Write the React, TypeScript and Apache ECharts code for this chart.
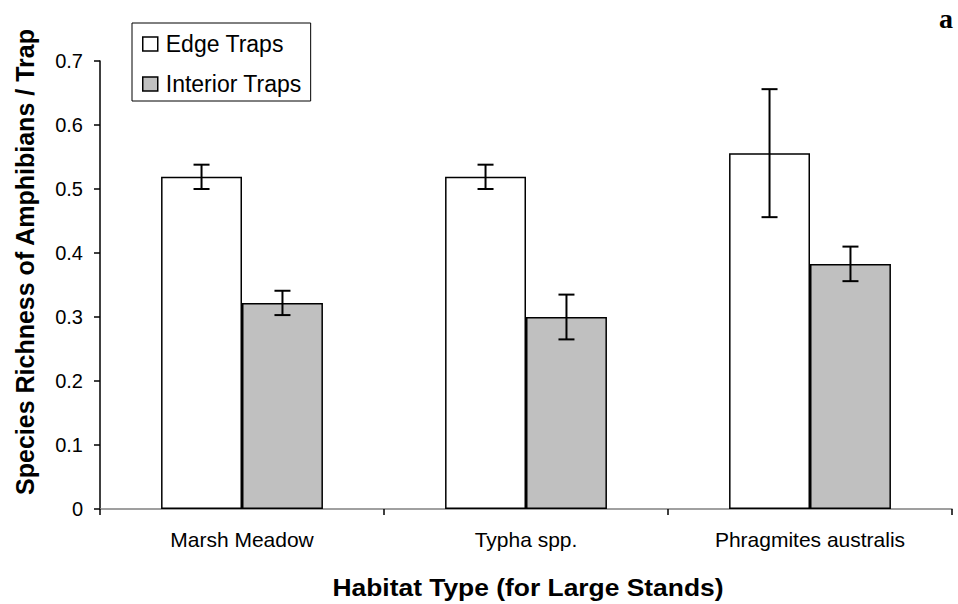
import React, { useEffect, useRef } from "react";
import * as echarts from "echarts";

const categories = ["Marsh Meadow", "Typha spp.", "Phragmites australis"];
const edgeValues = [0.519, 0.519, 0.556];
const edgeErrors = [0.019, 0.019, 0.1];
const interiorValues = [0.322, 0.3, 0.383];
const interiorErrors = [0.019, 0.035, 0.027];
const yTicks = [0, 0.1, 0.2, 0.3, 0.4, 0.5, 0.6, 0.7];

const BAR_GAP_FRAC = 0.43;

function errorSeries(name: string, values: number[], errs: number[], side: number) {
  return {
    type: "custom",
    name: name + " err",
    z: 10,
    silent: true,
    data: values.map((v, i) => [i, v - errs[i], v + errs[i]]),
    renderItem: (params: any, api: any) => {
      const idx = api.value(0);
      const lo = api.coord([idx, api.value(1)]);
      const hi = api.coord([idx, api.value(2)]);
      const band = api.size([1, 0])[0];
      const barW = (band * (1 - BAR_GAP_FRAC)) / 2;
      const x = lo[0] + (side * barW) / 2;
      const cap = 8;
      const style = { stroke: "#000", lineWidth: 2, fill: "none" };
      return {
        type: "group",
        children: [
          { type: "line", shape: { x1: x, y1: lo[1], x2: x, y2: hi[1] }, style },
          { type: "line", shape: { x1: x - cap, y1: lo[1], x2: x + cap, y2: lo[1] }, style },
          { type: "line", shape: { x1: x - cap, y1: hi[1], x2: x + cap, y2: hi[1] }, style },
        ],
      };
    },
  };
}

export default function App() {
  const ref = useRef<HTMLDivElement>(null);
  useEffect(() => {
    if (!ref.current) return;
    const chart = echarts.init(ref.current, null, { renderer: "svg" });
    const font = "'Liberation Sans', Arial, sans-serif";
    chart.setOption({
      animation: false,
      backgroundColor: "#fff",
      textStyle: { fontFamily: font },
      grid: { left: 100, right: 6, top: 61, bottom: 95, containLabel: false },
      legend: {
        orient: "vertical",
        left: 132,
        top: 23,
        padding: [8, 9, 4, 10],
        itemGap: 14,
        itemWidth: 15,
        itemHeight: 14,
        borderColor: "#000",
        borderWidth: 1,
        icon: "rect",
        textStyle: { fontSize: 23, lineHeight: 26, color: "#000", fontFamily: font, padding: [0, 0, 0, 3] },
        data: [
          { name: "Edge Traps", itemStyle: { color: "#fff", borderColor: "#000", borderWidth: 1.5 } },
          { name: "Interior Traps", itemStyle: { color: "#c0c0c0", borderColor: "#000", borderWidth: 1.5 } },
        ],
      },
      xAxis: {
        type: "category",
        data: categories,
        boundaryGap: true,
        axisLine: { lineStyle: { color: "#808080", width: 1.5 } },
        axisTick: { show: true, inside: false, length: 6, alignWithLabel: false, lineStyle: { color: "#000", width: 1.5 } },
        axisLabel: { fontSize: 21, color: "#000", margin: 20, fontFamily: font },
      },
      yAxis: {
        type: "value",
        min: 0,
        max: 0.7,
        interval: 0.1,
        splitLine: { show: false },
        axisLine: { show: true, lineStyle: { color: "#000", width: 1.5 } },
        axisTick: { show: true, length: 6, lineStyle: { color: "#000", width: 1.5 } },
        axisLabel: {
          fontSize: 20,
          color: "#000",
          margin: 17,
          fontFamily: font,
          formatter: (v: number) => {
            const t = yTicks.find((y) => Math.abs(y - v) < 1e-9);
            return t === 0 ? "0" : String(Math.round(v * 10) / 10);
          },
        },
      },
      graphic: [
        {
          type: "text",
          x: 946,
          y: 18,
          style: {
            text: "a",
            fontSize: 28,
            fontWeight: "bold",
            fontFamily: "'Liberation Serif', 'Times New Roman', serif",
            fill: "#000",
            align: "center",
            verticalAlign: "middle",
          },
        },
        {
          type: "text",
          x: 528,
          y: 587,
          scaleX: 1.1,
          style: {
            text: "Habitat Type (for Large Stands)",
            fontSize: 24,
            fontWeight: "bold",
            fontFamily: font,
            fill: "#000",
            align: "center",
            verticalAlign: "middle",
          },
        },
        {
          type: "text",
          x: 25,
          y: 262,
          rotation: Math.PI / 2,
          style: {
            text: "Species Richness of Amphibians / Trap",
            fontSize: 25,
            fontWeight: "bold",
            fontFamily: font,
            fill: "#000",
            align: "center",
            verticalAlign: "middle",
          },
        },
      ],
      series: [
        {
          type: "bar",
          name: "Edge Traps",
          data: edgeValues,
          barGap: "0%",
          barCategoryGap: BAR_GAP_FRAC * 100 + "%",
          itemStyle: { color: "#fff", borderColor: "#000", borderWidth: 1.5 },
        },
        {
          type: "bar",
          name: "Interior Traps",
          data: interiorValues,
          barGap: "0%",
          barCategoryGap: BAR_GAP_FRAC * 100 + "%",
          itemStyle: { color: "#c0c0c0", borderColor: "#000", borderWidth: 1.5 },
        },
        errorSeries("Edge Traps", edgeValues, edgeErrors, -1),
        errorSeries("Interior Traps", interiorValues, interiorErrors, 1),
      ],
    });
    return () => chart.dispose();
  }, []);
  return (
    <div
      ref={ref}
      style={{ position: "absolute", left: 0, top: 0, width: 958, height: 604 }}
    />
  );
}
